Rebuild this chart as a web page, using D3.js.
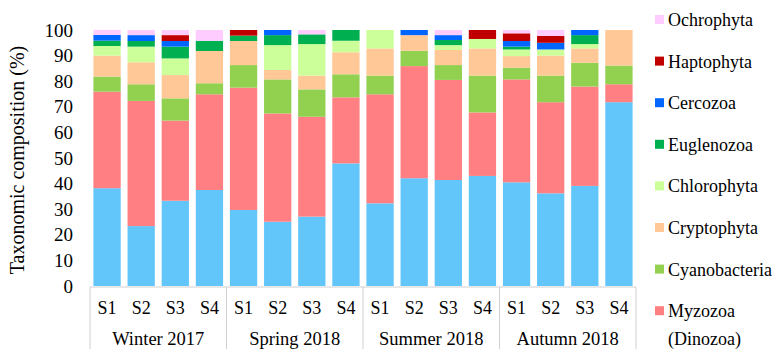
<!DOCTYPE html>
<html><head><meta charset="utf-8">
<script src="https://cdn.jsdelivr.net/npm/d3@7"></script>
<style>
html,body{margin:0;padding:0;background:#fff;}
svg{display:block;font-family:"Liberation Serif","Times New Roman",serif;}
</style></head>
<body><svg id="chart" width="780" height="349"></svg>
<script>
const seasons = ["Winter 2017","Spring 2018","Summer 2018","Autumn 2018"];
const sites = ["S1","S2","S3","S4"];
const yTicks = [0,10,20,30,40,50,60,70,80,90,100];
const seriesNames = ["Ciliophora","Myzozoa (Dinozoa)","Cyanobacteria","Cryptophyta","Chlorophyta","Euglenozoa","Cercozoa","Haptophyta","Ochrophyta"];
const seriesColors = ["#63C6FB","#FF7F82","#92D050","#FFC896","#CCFF99","#00B050","#0066FF","#C00000","#FFCCFF"];
// legend entries visible in the picture (the base series' entry lies below the frame)
const legendNames = ["Ochrophyta","Haptophyta","Cercozoa","Euglenozoa","Chlorophyta","Cryptophyta","Cyanobacteria","Myzozoa (Dinozoa)"];
// values per sample, order: W S1..S4, Sp S1..S4, Su S1..S4, Au S1..S4
const ciliophora   = [38.2,23.4,33.3,37.5, 29.7,25.1,27.1,47.9, 32.3,42.1,41.4,43.0, 40.5,36.2,39.1,71.8];
const myzozoa      = [37.7,48.9,31.3,37.4, 47.8,42.3,39.0,25.8, 42.6,43.8,39.1,24.8, 40.2,35.6,38.8,7.0];
const cyanobacteria= [5.9,6.5,8.7,4.3,     8.8,13.3,10.7,9.0,   7.3,6.0,5.8,14.4,    4.6,10.4,9.3,7.3];
const cryptophyta  = [8.2,8.6,9.1,12.6,    9.4,3.7,5.4,8.6,     10.6,6.1,5.9,10.6,   4.5,7.8,5.6,13.9];
const chlorophyta  = [3.75,6.1,6.5,0,      0,9.7,12.3,4.5,      7.2,0,1.9,3.7,       2.6,2.4,1.7,0];
const euglenozoa   = [2.1,2.2,4.6,4.0,     2.1,3.9,3.8,4.2,     0,0,2.0,0,           1.1,0,3.5,0];
const cercozoa     = [2.2,2.3,2.2,0,       0,2.0,0,0,           0,2.0,1.9,0,         2.2,2.6,2.0,0];
const haptophyta   = [0,0,2.3,0,           2.2,0,0,0,           0,0,0,3.5,           3.0,2.7,0,0];
const ochrophyta   = [2.0,2.0,2.0,4.2,     0,0,1.7,0,           0,0,2.0,0,           1.3,2.3,0,0];

const seriesValues = [ciliophora,myzozoa,cyanobacteria,cryptophyta,chlorophyta,euglenozoa,cercozoa,haptophyta,ochrophyta];

const samples = [];
seasons.forEach(s => sites.forEach(t => samples.push({id: s+"|"+t, season: s, site: t})));
const table = samples.map((d,i) => {
  const row = {id: d.id, season: d.season, site: d.site};
  seriesNames.forEach((n,k) => row[n] = seriesValues[k][i]);
  return row;
});

const svg = d3.select("#chart");
const mLeft = 90, mRight = 636, mTop = 30, mBottom = 286;
const FONT = "Liberation Serif, Times New Roman, serif";

const x = d3.scaleBand().domain(samples.map(d=>d.id)).range([mLeft,mRight]).paddingInner(0.2).paddingOuter(0.1);
const y = d3.scaleLinear().domain([0,100]).range([mBottom,mTop]);
const color = d3.scaleOrdinal().domain(seriesNames).range(seriesColors);

const stack = d3.stack().keys(seriesNames);
const stacked = stack(table);

svg.append("g").selectAll("g").data(stacked).join("g")
  .attr("fill", d => color(d.key))
  .selectAll("rect").data(d => d).join("rect")
  .attr("x", d => x(d.data.id))
  .attr("width", x.bandwidth())
  .attr("y", d => y(d[1]))
  .attr("height", d => Math.max(0, y(d[0]) - y(d[1])));

// y axis (labels only)
const yAxis = d3.axisLeft(y).tickValues(yTicks).tickSize(0).tickPadding(0);
const yg = svg.append("g").attr("transform", `translate(${mLeft-17},0)`).call(yAxis);
yg.select(".domain").remove();
yg.selectAll("text").attr("font-size", 19).attr("fill","#000").attr("font-family",FONT);

// x axis: line + site labels
svg.append("line").attr("x1",mLeft).attr("x2",mRight).attr("y1",mBottom+1).attr("y2",mBottom+1)
  .attr("stroke","#d0d0d0").attr("stroke-width",1);
const xAxis = d3.axisBottom(x).tickSize(0).tickPadding(0).tickFormat(id => id.split("|")[1]);
const xg = svg.append("g").attr("transform", `translate(0,${mBottom+14})`).call(xAxis);
xg.select(".domain").remove();
xg.selectAll("text").attr("font-size", 18).attr("fill","#000").attr("dy","0.32em").attr("y",8).attr("font-family",FONT);

// season group separators and labels
const groupW = (mRight-mLeft)/seasons.length;
const sepX = d3.range(seasons.length+1).map(i => mLeft + i*groupW);
svg.append("g").selectAll("line").data(sepX).join("line")
  .attr("x1",d=>d).attr("x2",d=>d).attr("y1",mBottom+1).attr("y2",349)
  .attr("stroke","#d0d0d0").attr("stroke-width",1);
svg.append("g").selectAll("text").data(seasons).join("text")
  .attr("x",(d,i)=> mLeft + (i+0.5)*groupW)
  .attr("y", 344.5)
  .attr("text-anchor","middle").attr("font-size",18.5).attr("fill","#000")
  .text(d=>d);

// y title
svg.append("text").attr("transform","translate(24,160) rotate(-90)")
  .attr("text-anchor","middle").attr("font-size",20).attr("fill","#000")
  .text("Taxonomic composition (%)");

// legend
const lg = svg.append("g");
const rowH = 41.6;
legendNames.forEach((n,i) => {
  const cy = 20 + i*rowH;
  const g = lg.append("g").attr("transform",`translate(655,${cy})`);
  g.append("rect").attr("x",0).attr("y",-5).attr("width",9).attr("height",9).attr("fill",color(n));
  if (n === "Myzozoa (Dinozoa)") {
    g.append("text").attr("x",13).attr("y",6).attr("font-size",18).text("Myzozoa");
    g.append("text").attr("x",13).attr("y",6+28).attr("font-size",18).text("(Dinozoa)");
  } else {
    g.append("text").attr("x",13).attr("y",6).attr("font-size",18).text(n);
  }
});
</script></body></html>
